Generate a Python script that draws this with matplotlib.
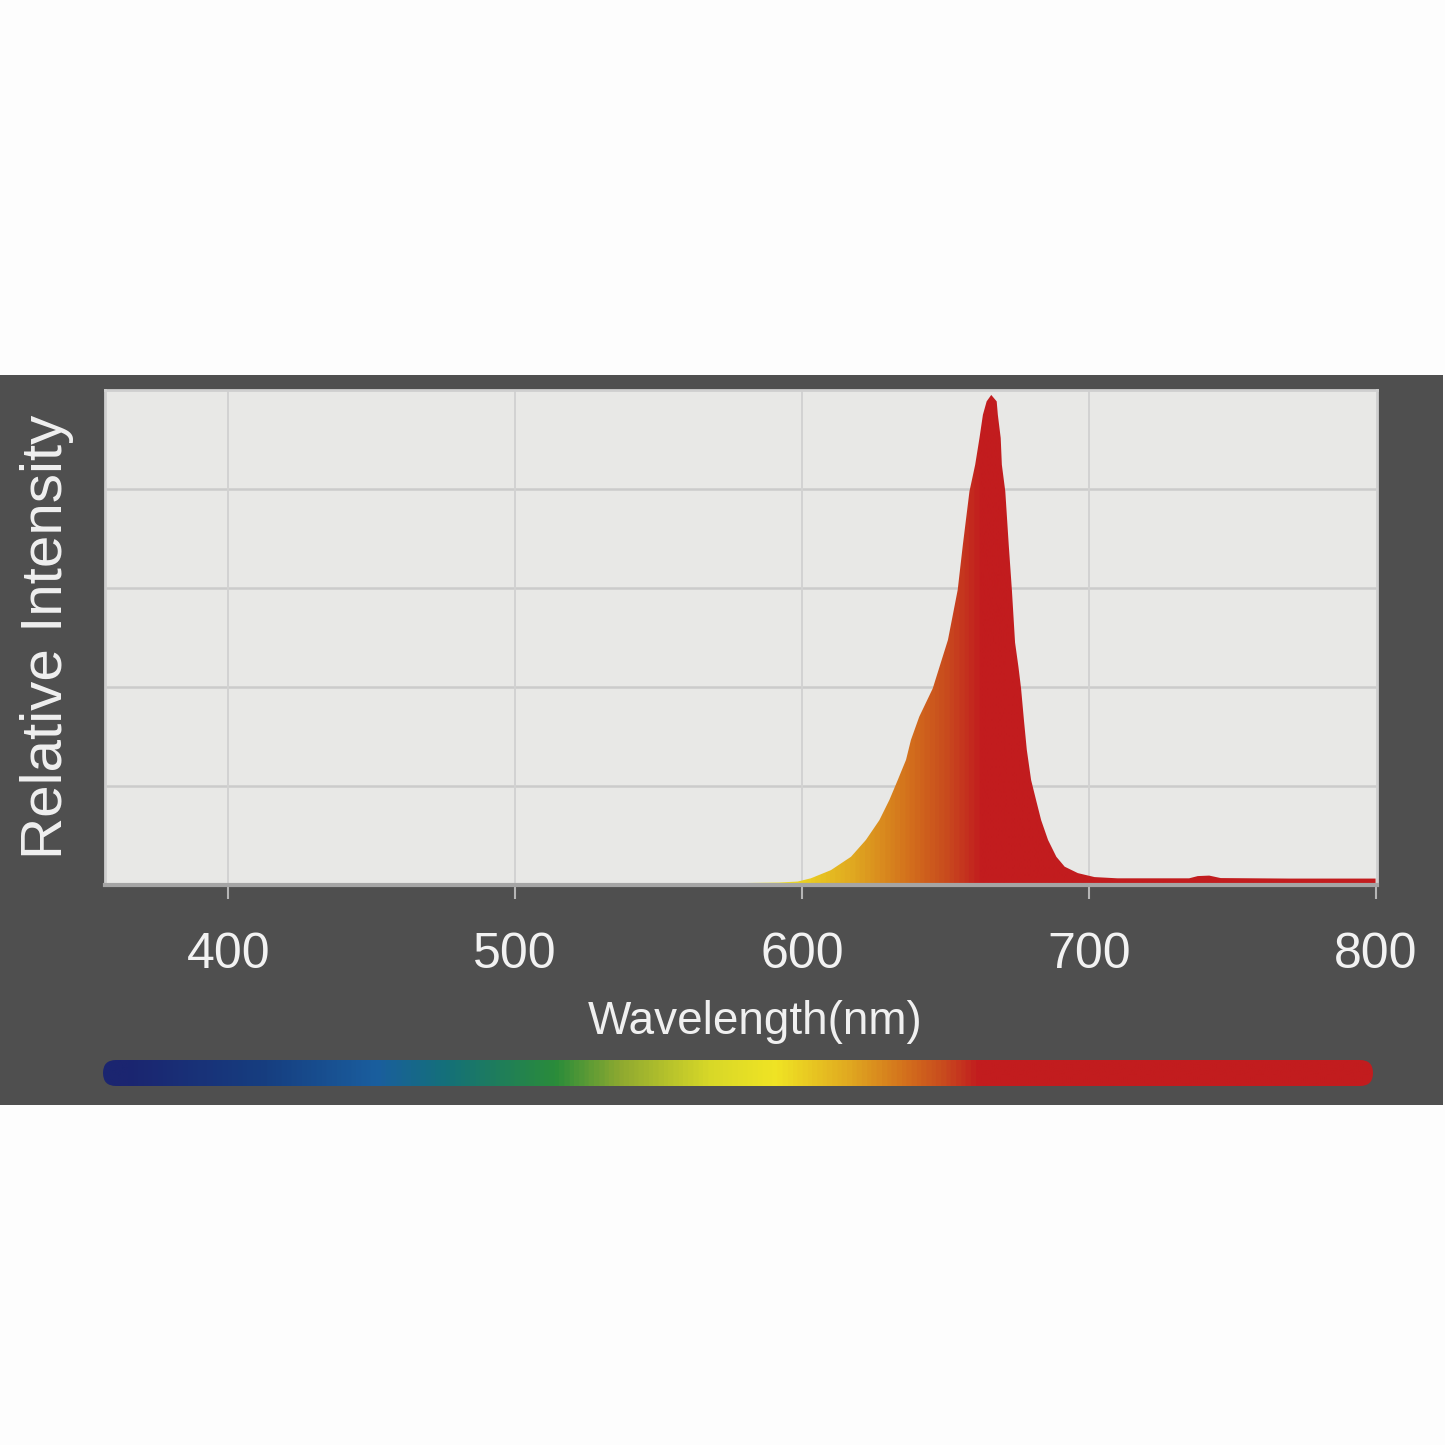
import numpy as np
import matplotlib
matplotlib.use("Agg")
import matplotlib.pyplot as plt
from matplotlib.colors import LinearSegmentedColormap, Normalize
from matplotlib.patches import Rectangle, FancyBboxPatch

plt.rcParams['font.family'] = ['Liberation Sans', 'DejaVu Sans']

# ---- data ----
wavelength = [357, 420, 500, 580, 592, 598.5, 603.1, 610.1, 617.1, 622.3, 627.0, 630.5,
              633.4, 636.3, 638.0, 640.9, 645.6, 650.9, 654.3, 656.1, 658.4, 660.4,
              661.9, 663.1, 664.4, 666.0, 667.9, 668.3, 669.3, 669.7, 670.9, 672.1,
              673.2, 674.3, 675.5, 676.4, 677.4, 678.4, 679.9, 681.7, 683.4, 685.8, 688.7,
              691.6, 696.2, 702.0, 710, 735, 738, 742, 746, 770, 800]
intensity = [0.0, 0.002, 0.003, 0.004, 0.005, 0.007, 0.0135, 0.030, 0.057, 0.091, 0.131, 0.172,
             0.212, 0.253, 0.293, 0.340, 0.397, 0.495, 0.596, 0.687, 0.795, 0.849,
             0.903, 0.950, 0.977, 0.990, 0.977, 0.950, 0.903, 0.849, 0.795, 0.687,
             0.596, 0.490, 0.440, 0.397, 0.333, 0.273, 0.212, 0.170, 0.131, 0.091, 0.057,
             0.037, 0.024, 0.016, 0.0135, 0.0135, 0.018, 0.019, 0.014, 0.013, 0.013]

xticks = [400, 500, 600, 700, 800]
xtick_labels = ["400", "500", "600", "700", "800"]
ygrid = [0.2, 0.4, 0.6, 0.8]

# spectrum colour stops (wavelength -> colour)
stop_wl = [357, 365, 413, 452, 476, 515, 538, 569, 592, 618, 639, 651, 658, 663, 800.5]
stop_col = ["#1B2570", "#1B2570", "#163E80", "#1A5E9E", "#14707A", "#2A8C3A", "#90AA30",
            "#D8D828", "#F0E424", "#E0A820", "#D26C1C", "#C84A1E", "#C4301F", "#C21C1E",
            "#C21C1E"]

xmin, xmax = 357, 800.5

# ---- figure ----
W = H = 1445
fig = plt.figure(figsize=(W / 100, H / 100), dpi=100)
fig.patch.set_facecolor("#FDFDFD")

panel = Rectangle((0, 1 - 1105 / H), 1443 / W, (1105 - 375) / H,
                  transform=fig.transFigure, facecolor="#4F4F4F", edgecolor="none", zorder=-10)
fig.patches.append(panel)

norm = Normalize(xmin, xmax)
pos = [(w - xmin) / (xmax - xmin) for w in stop_wl]
cmap = LinearSegmentedColormap.from_list("spec", list(zip(pos, stop_col)))

ax = fig.add_axes([105 / W, 1 - 885 / H, (1377 - 105) / W, (885 - 390) / H])
ax.set_facecolor("#E8E8E6")
ax.set_xlim(xmin, xmax)
ax.set_ylim(0, 1)

for g in ygrid:
    ax.axhline(g, color="#CBCBCB", lw=1.8, zorder=1)
for t in xticks[:-1]:
    ax.axvline(t, color="#D2D2D2", lw=1.4, zorder=1)

poly = ax.fill_between(wavelength, intensity, 0, facecolor="none", edgecolor="none", zorder=2)
grad = np.linspace(xmin, xmax, 1200)[None, :]
im = ax.imshow(grad, extent=[xmin, xmax, 0, 1], aspect="auto", cmap=cmap, norm=norm,
               origin="lower", zorder=2, interpolation="bilinear")
im.set_clip_path(poly.get_paths()[0], ax.transData)

for s in ["top", "left", "right"]:
    ax.spines[s].set_color("#CFCFCF")
    ax.spines[s].set_linewidth(2)
ax.spines["bottom"].set_color("#A5A5A5")
ax.spines["bottom"].set_linewidth(3)
ax.spines["bottom"].set_zorder(3)

ax.set_yticks([])
ax.set_xticks(xticks)
ax.set_xticklabels(xtick_labels)
ax.tick_params(axis="x", colors="#B5B5B5", length=10, width=1.5, pad=24,
               labelcolor="#F2F2F2", labelsize=36)

fig.text(47 / W, 1 - 637 / H, "Relative Intensity", rotation=90, color="#F0F0F0",
         fontsize=42, ha="center", va="center")
fig.text(755 / W, 1 - 1022 / H, "Wavelength(nm)", color="#F0F0F0",
         fontsize=33, ha="center", va="center")

# spectrum bar
bax = fig.add_axes([103 / W, 1 - 1086 / H, (1373 - 103) / W, 26 / H])
bax.set_xlim(xmin, xmax)
bax.set_ylim(0, 1)
bax.axis("off")
bim = bax.imshow(grad, extent=[xmin, xmax, 0, 1], aspect="auto", cmap=cmap, norm=norm,
                 origin="lower", interpolation="bilinear")
px_per_nm = (1373 - 103) / (xmax - xmin)
r = 13 / px_per_nm
box = FancyBboxPatch((xmin, 0), xmax - xmin, 1,
                     boxstyle=f"round,pad=0,rounding_size={r}",
                     mutation_aspect=0.5 / r, transform=bax.transData,
                     facecolor="none", edgecolor="none")
bax.add_patch(box)
bim.set_clip_path(box)

fig.savefig("out.png", dpi=100, facecolor=fig.get_facecolor())
